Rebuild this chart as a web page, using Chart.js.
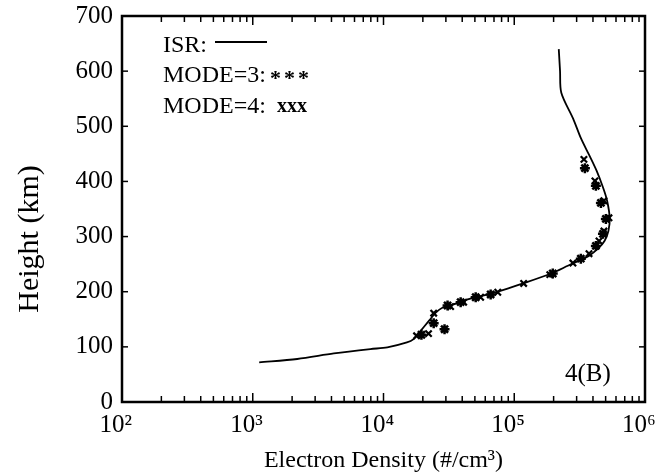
<!DOCTYPE html>
<html><head><meta charset="utf-8">
<script src="https://cdn.jsdelivr.net/npm/chart.js@4"></script>
<style>html,body{margin:0;padding:0;background:#fff;}canvas{display:block;}</style>
</head><body>
<canvas id="c" width="657" height="473"></canvas>
<script>
const FONT = "'Liberation Serif','Times New Roman',serif";

// ISR profile (height km, electron density #/cm^3)
const isrHeight  = [72, 78, 88, 96, 99, 108, 114, 125, 148, 162, 171, 179, 188, 195, 202, 215, 233, 247, 256, 265, 278, 292, 310, 334, 365, 388, 419, 449, 478, 514, 561, 600, 640];
const isrDensity = [1120, 2190, 4170, 7940, 10700, 15100, 17000, 18600, 22400, 25100, 28200, 36300, 46800, 63100, 79400, 117000, 191000, 257000, 309000, 372000, 437000, 490000, 525000, 537000, 513000, 479000, 427000, 372000, 324000, 282000, 229000, 224000, 219000];

// MODE=3 points
const mode3Height  = [122, 132, 143, 175, 181, 190, 195, 233, 260, 283, 305, 332, 361, 392, 424];
const mode3Density = [19500, 29300, 24200, 30900, 38900, 50700, 66000, 197000, 323000, 421000, 477000, 502000, 460000, 421000, 347000];

// MODE=4 points
const mode4Height  = [120, 124, 161, 173, 181, 190, 199, 215, 231, 252, 269, 292, 310, 334, 365, 401, 440];
const mode4Density = [17900, 22100, 24200, 32600, 41000, 55300, 74800, 118000, 187000, 281000, 373000, 445000, 485000, 530000, 485000, 414000, 341000];

// tick labels
const xTickValues = [100, 1000, 10000, 100000, 1000000];
const xTickLabels = ['10\u00B2', '10\u00B3', '10\u2074', '10\u2075', '10\u2076'];
const yTickValues = [0, 100, 200, 300, 400, 500, 600, 700];

const legendLines = ['ISR:', 'MODE=3:', 'MODE=4:'];
const panelLabel = '4(B)';

const toPts = (xs, ys) => xs.map((v, i) => ({x: v, y: ys[i]}));

const framePlugin = {
  id: 'frame',
  afterDatasetsDraw(chart) {
    const {ctx, chartArea: a, scales: {x, y}} = chart;
    ctx.save();
    ctx.strokeStyle = '#000';
    ctx.lineWidth = 1.5;
    const seg = (x1, y1, x2, y2) => { ctx.beginPath(); ctx.moveTo(x1, y1); ctx.lineTo(x2, y2); ctx.stroke(); };
    x.ticks.forEach(t => {
      const px = x.getPixelForValue(t.value);
      const lg = Math.log10(t.value);
      const major = Math.abs(lg - Math.round(lg)) < 1e-9;
      const len = major ? 9 : 6;
      seg(px, a.bottom, px, a.bottom - len);
      seg(px, a.top, px, a.top + len);
    });
    y.ticks.forEach(t => {
      const py = y.getPixelForValue(t.value);
      seg(a.left, py, a.left + 6, py);
      seg(a.right, py, a.right - 6, py);
    });
    ctx.lineWidth = 2.5;
    ctx.strokeRect(a.left, a.top, a.right - a.left, a.bottom - a.top);

    // legend
    ctx.fillStyle = '#000';
    ctx.font = '24px ' + FONT;
    ctx.textBaseline = 'alphabetic';
    ctx.textAlign = 'left';
    const lx = a.left + 41;
    ctx.fillText(legendLines[0], lx, 52);
    ctx.fillText(legendLines[1], lx, 82);
    ctx.fillText(legendLines[2], lx, 113);
    ctx.lineWidth = 2;
    seg(lx + 52, 42, lx + 104, 42);
    // asterisks for MODE=3
    ctx.font = 'bold 22px ' + FONT;
    ['*', '*', '*'].forEach((s, i) => ctx.fillText(s, lx + 107 + i * 14, 85));
    // xxx for MODE=4
    ctx.font = 'bold 20px ' + FONT;
    ctx.fillText('xxx', lx + 114, 112);
    // panel label
    ctx.font = '25px ' + FONT;
    ctx.fillText(panelLabel, 565, 381);
    ctx.restore();
  }
};

new Chart(document.getElementById('c'), {
  type: 'scatter',
  data: {
    datasets: [
      {
        label: 'ISR',
        data: toPts(isrDensity, isrHeight),
        showLine: true,
        borderColor: '#000',
        borderWidth: 1.8,
        pointRadius: 0,
        tension: 0.3,
        fill: false
      },
      {
        label: 'MODE=3',
        data: toPts(mode3Density, mode3Height),
        showLine: false,
        pointStyle: 'star',
        pointRadius: 5,
        borderColor: '#000',
        backgroundColor: '#000',
        borderWidth: 2.5
      },
      {
        label: 'MODE=4',
        data: toPts(mode4Density, mode4Height),
        showLine: false,
        pointStyle: 'crossRot',
        pointRadius: 4.5,
        borderColor: '#000',
        backgroundColor: '#000',
        borderWidth: 2.2
      }
    ]
  },
  options: {
    responsive: false,
    animation: false,
    layout: {padding: {left: 0, right: 12, top: 16, bottom: 0}},
    plugins: {legend: {display: false}, tooltip: {enabled: false}},
    scales: {
      x: {
        type: 'logarithmic',
        min: 100,
        max: 1000000,
        grid: {display: false, drawTicks: false},
        border: {display: false},
        afterFit(s) { s.height = 71; s.paddingLeft = 0; s.paddingRight = 0; },
        afterBuildTicks(s) {
          const t = [];
          for (let e = 2; e < 6; e++) for (let m = 1; m < 10; m++) t.push({value: m * Math.pow(10, e)});
          t.push({value: 1000000});
          s.ticks = t;
        },
        ticks: {
          autoSkip: false,
          maxRotation: 0,
          padding: 8,
          color: '#000',
          font: {family: FONT, size: 25},
          callback(v) {
            const i = xTickValues.indexOf(v);
            return i >= 0 ? xTickLabels[i] + '  ' : '';
          }
        },
        title: {
          display: true,
          text: 'Electron Density (#/cm\u00B3)',
          color: '#000',
          font: {family: FONT, size: 24, lineHeight: 1},
          padding: {top: 0, bottom: 0}
        }
      },
      y: {
        min: 0,
        max: 700,
        grid: {display: false, drawTicks: false},
        border: {display: false},
        afterFit(s) { s.width = 122; s.paddingTop = 0; s.paddingBottom = 0; },
        afterBuildTicks(s) { s.ticks = yTickValues.map(v => ({value: v})); },
        ticks: {
          padding: 9,
          color: '#000',
          font: {family: FONT, size: 25}
        },
        title: {
          display: true,
          text: 'Height (km)        ',
          color: '#000',
          font: {family: FONT, size: 30, lineHeight: 1},
          padding: {top: 15, bottom: 0}
        }
      }
    }
  },
  plugins: [framePlugin]
});
</script>
</body></html>
